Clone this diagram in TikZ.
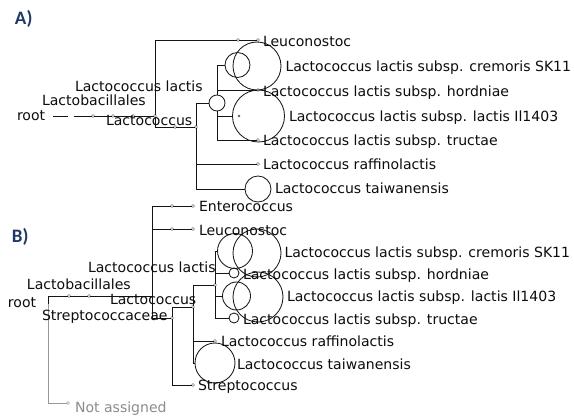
\documentclass[tikz,border=0pt]{standalone}
\usepackage{fontspec}
\setmainfont{DejaVu Sans}
\newfontfamily\labfont{Carlito}
\definecolor{panelblue}{RGB}{31,56,100}
\begin{document}
\begin{tikzpicture}[x=1pt,y=-1pt,
  every node/.style={inner sep=0pt, outer sep=0pt},
  lbl/.style={anchor=base west, font=\fontsize{14.05}{16}\selectfont, text=black!95},
  glbl/.style={lbl, text=black!45},
  dot/.style={circle, draw=black!50, fill=white, line width=0.5pt, minimum size=2.8pt},
  cnode/.style={circle, draw=black!90, line width=0.85pt, minimum size=#1},
  conn/.style={draw=black!92, line width=0.95pt},
  gconn/.style={draw=black!40, line width=0.95pt},
  panel/.style={anchor=base west, font=\labfont\bfseries\fontsize{19}{20}\selectfont, text=panelblue}
]
\useasboundingbox[fill=white] (0,0) rectangle (574,417);

% ---------- panel labels
\node[panel] (pA) at (15,25) {A)};
\node[panel] (pB) at (12,243) {B)};

% ================= A =================
\coordinate (rootA) at (53,116);
\coordinate (gA1) at (68,116);
\coordinate (gA2) at (74,116);
\node[dot] (a1) at (93,116) {};
\node[dot] (a2) at (113,116) {};
\node[dot] (a3) at (133,116) {};
\node[dot] (a4) at (155,116) {};
\node[dot] (a5) at (238,40) {};
\node[dot] (leucA) at (258,40) {};
\node[dot] (a6) at (175,127) {};
\node[dot] (a7) at (196,127) {};
\node[cnode=16pt] (llA) at (217,103) {};
\node[cnode=25pt] (xA) at (237.5,65) {};
\node[cnode=48pt] (cremA) at (257,66) {};
\node[dot] (hordA) at (258,90) {};
\node[dot, draw=black!70, minimum size=2pt] (yA) at (239,116) {};
\node[cnode=52pt] (ilA) at (258.5,116) {};
\node[dot] (tructA) at (258,140) {};
\node[dot] (raffA) at (258,164) {};
\node[cnode=26pt] (taiwA) at (258,189) {};

\draw[conn] (rootA) -- (gA1) (gA2) -- (a1) -- (a2) -- (a3) -- (a4);
\draw[conn] (a4) |- (a5) (a5) -- (leucA);
\draw[conn] (a4) |- (a6) (a6) -- (a7);
\draw[conn] (a7) |- (llA) (a7) |- (raffA) (a7) |- (taiwA);
\draw[conn] (llA) |- (xA) (llA) |- (hordA) (llA) |- (ilA) (llA) |- (tructA);

\node[lbl] (tLeucA) at (263,46.5) {Leuconostoc};
\node[lbl] (tCremA) at (285.5,72) {Lactococcus lactis subsp. cremoris SK11};
\node[lbl] (tHordA) at (263,97) {Lactococcus lactis subsp. hordniae};
\node[lbl] (tIlA) at (289,121.5) {Lactococcus lactis subsp. lactis Il1403};
\node[lbl] (tTructA) at (263,146) {Lactococcus lactis subsp. tructae};
\node[lbl] (tRaffA) at (263,170) {Lactococcus raffinolactis};
\node[lbl] (tTaiwA) at (275,194) {Lactococcus taiwanensis};
\node[lbl] (tLlA) at (75,91.5) {Lactococcus lactis};
\node[lbl] (tLbA) at (42,106) {Lactobacillales};
\node[lbl] (tRootA) at (17,120.5) {root};
\node[lbl] (tLcA) at (106,126) {Lactococcus};

% ================= B =================
\coordinate (rootB) at (48,304);
\node[dot] (b1) at (69,296) {};
\node[dot] (b2) at (89,296) {};
\coordinate (b3) at (152,296);
\node[dot] (b4) at (172,206) {};
\node[dot] (enteroB) at (193,206) {};
\node[dot] (b5) at (172,229) {};
\node[dot] (leucB) at (193,229) {};
\node[dot] (scB) at (172,318) {};
\node[dot] (lacB) at (193,307) {};
\node[dot] (streptoB) at (193,385) {};
\node[dot] (llB) at (215,285) {};
\node[dot] (raffB) at (215,341) {};
\node[cnode=40pt] (taiwB) at (215,363) {};
\node[cnode=35pt] (xB) at (235,251) {};
\node[cnode=48pt] (cremB) at (257,253) {};
\node[cnode=10pt] (hordB) at (234,273) {};
\node[cnode=28pt] (yB) at (236.5,296) {};
\node[cnode=50pt] (ilB) at (258,297) {};
\node[cnode=10pt] (tructB) at (234,318) {};
\node[dot, draw=black!35] (naB) at (68,403) {};

\draw[gconn] (rootB) |- (naB);
\draw[conn] (rootB) |- (b1) (b1) -- (b2) -- (b3);
\draw[conn] (b3) |- (b4) (b4) -- (enteroB);
\draw[conn] (b3) |- (b5) (b5) -- (leucB);
\draw[conn] (b3) |- (scB);
\draw[conn] (scB) |- (lacB) (scB) |- (streptoB);
\draw[conn] (lacB) |- (llB) (lacB) |- (raffB) (lacB) |- (taiwB);
\draw[conn] (llB) |- (xB) (llB) |- (hordB) (llB) |- (yB) (llB) |- (tructB);

\node[lbl] (tEntB) at (199,212) {Enterococcus};
\node[lbl] (tLeucB) at (199,235.5) {Leuconostoc};
\node[lbl] (tCremB) at (284.5,258) {Lactococcus lactis subsp. cremoris SK11};
\node[lbl] (tHordB) at (243,280) {Lactococcus lactis subsp. hordniae};
\node[lbl] (tIlB) at (287,302) {Lactococcus lactis subsp. lactis Il1403};
\node[lbl] (tTructB) at (243,325) {Lactococcus lactis subsp. tructae};
\node[lbl] (tRaffB) at (221,347) {Lactococcus raffinolactis};
\node[lbl] (tTaiwB) at (237,370) {Lactococcus taiwanensis};
\node[lbl] (tStrB) at (198,391) {Streptococcus};
\node[glbl] (tNaB) at (75,412) {Not assigned};
\node[lbl] (tLlB) at (88,273) {Lactococcus lactis};
\node[lbl] (tLbB) at (27,290) {Lactobacillales};
\node[lbl] (tRootB) at (8,308) {root};
\node[lbl] (tLcB) at (110,305) {Lactococcus};
\node[lbl] (tScB) at (42,321) {Streptococcaceae};
\end{tikzpicture}
\end{document}
